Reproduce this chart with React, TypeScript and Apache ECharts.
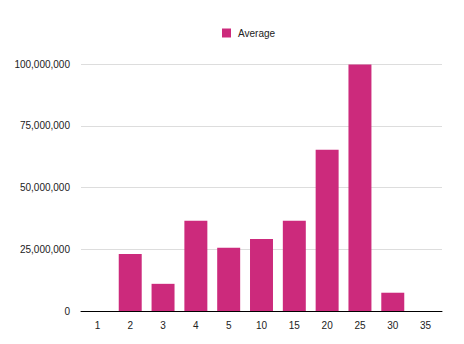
import React, { useEffect, useRef } from "react";
import * as echarts from "echarts";

const categories = ["1", "2", "3", "4", "5", "10", "15", "20", "25", "30", "35"];
const averageValues = [0, 23100000, 11000000, 36500000, 25600000, 29200000, 36500000, 65300000, 99800000, 7400000, 0];
const seriesName = "Average";

export default function App() {
  const ref = useRef<HTMLDivElement>(null);
  useEffect(() => {
    const chart = echarts.init(ref.current!, null, { renderer: "svg" });
    const font = "'Liberation Sans', Arial, Helvetica, sans-serif";
    chart.setOption({
      animation: false,
      legend: {
        data: [seriesName],
        top: 28,
        left: 222,
        padding: 0,
        itemWidth: 9,
        itemHeight: 9,
        icon: "rect",
        textStyle: { fontFamily: font, fontSize: 10, color: "#222", padding: [0, 0, 0, 2] },
      },
      grid: { left: 81, right: 22, top: 64, bottom: 33 },
      xAxis: {
        type: "category",
        data: categories,
        axisLine: { lineStyle: { color: "#000", width: 1 } },
        axisTick: { show: false },
        axisLabel: { fontFamily: font, fontSize: 10, color: "#222", margin: 9 },
      },
      yAxis: {
        type: "value",
        min: 0,
        max: 100000000,
        interval: 25000000,
        axisLine: { show: false },
        axisTick: { show: false },
        splitLine: { lineStyle: { color: "#ddd", width: 1 } },
        axisLabel: {
          fontFamily: font,
          fontSize: 10,
          color: "#222",
          margin: 11,
          formatter: (v: number) => v.toLocaleString("en-US"),
        },
      },
      series: [
        {
          name: seriesName,
          type: "bar",
          data: averageValues,
          barCategoryGap: "30%",
          itemStyle: { color: "#cc2a7c" },
        },
      ],
    });
    return () => chart.dispose();
  }, []);
  return <div ref={ref} style={{ width: 464, height: 344, position: "absolute", left: 0, top: 0 }} />;
}
